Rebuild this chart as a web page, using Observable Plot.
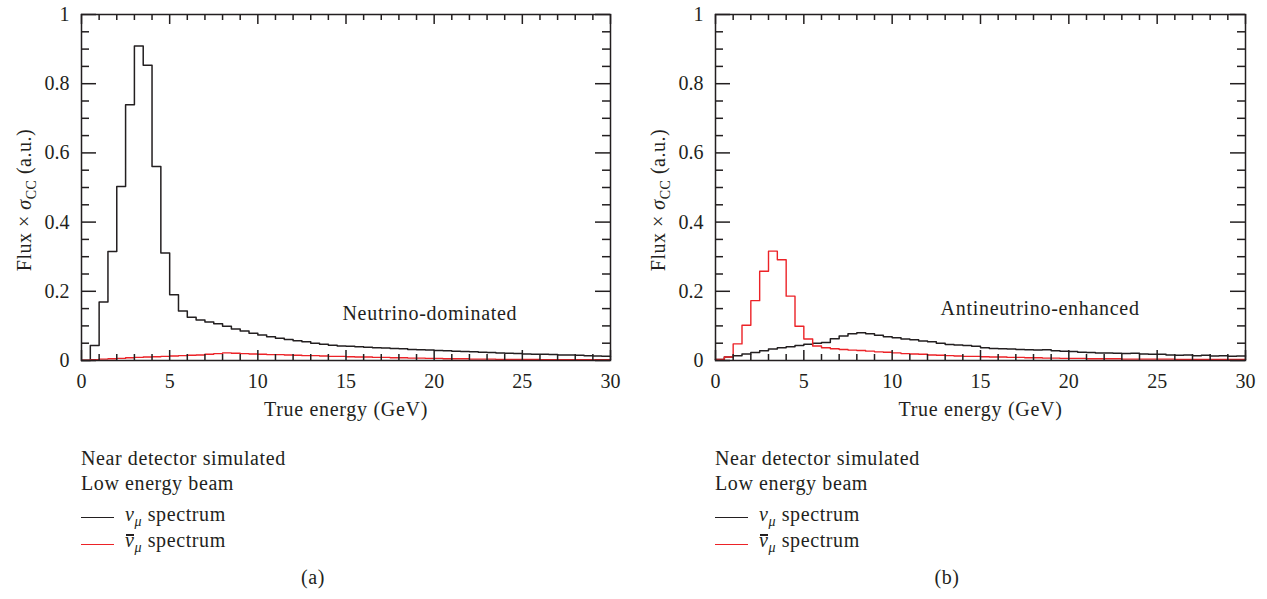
<!DOCTYPE html>
<html><head><meta charset="utf-8">
<script src="https://cdn.jsdelivr.net/npm/d3@7"></script>
<script src="https://cdn.jsdelivr.net/npm/@observablehq/plot@0.6"></script>
<style>
body{margin:0;background:#fff;}
#root{position:relative;width:1267px;height:599px;font-family:'Liberation Serif','Times New Roman','DejaVu Serif',serif;color:#231f20;overflow:hidden;}
#root svg, #root svg text{font-family:'Liberation Serif','Times New Roman','DejaVu Serif',serif !important;}
.panel{position:absolute;top:0;}
.abs{position:absolute;font-size:20px;line-height:20px;white-space:nowrap;letter-spacing:0.6px;}
.sw{position:absolute;height:0;width:33px;}
.ylab{position:absolute;width:300px;text-align:center;font-size:20px;line-height:20px;white-space:nowrap;letter-spacing:0.5px;transform:rotate(-90deg);}
sub{font-size:14px;vertical-align:-5px;line-height:0;font-style:italic;}
.ov{position:relative;}
.ov::before{content:"";position:absolute;left:1px;right:0;top:5px;border-top:2px solid #231f20;}
</style></head><body><div id="root"></div><script>
// ---- data (flux x sigma_CC per 0.5 GeV bin, 0..30 GeV) ----
const binWidth = 0.5;
const nuLeft = [0.000,0.043,0.169,0.315,0.503,0.739,0.909,0.853,0.561,0.311,
 0.190,0.143,0.125,0.117,0.111,0.106,0.099,0.091,0.085,0.079,
 0.074,0.069,0.064,0.061,0.057,0.054,0.050,0.047,0.044,0.042,
 0.041,0.040,0.038,0.037,0.036,0.035,0.034,0.032,0.031,0.030,
 0.029,0.028,0.027,0.026,0.025,0.024,0.023,0.022,0.021,0.020,
 0.019,0.018,0.018,0.017,0.016,0.016,0.015,0.014,0.013,0.012];
const nubarLeft = [0.001,0.002,0.004,0.005,0.006,0.008,0.009,0.010,0.011,0.012,
 0.013,0.014,0.015,0.016,0.018,0.020,0.022,0.021,0.020,0.019,
 0.018,0.017,0.017,0.016,0.015,0.014,0.014,0.013,0.012,0.012,
 0.011,0.010,0.010,0.009,0.009,0.008,0.008,0.007,0.007,0.006,
 0.006,0.005,0.005,0.005,0.004,0.004,0.004,0.003,0.003,0.003,
 0.003,0.003,0.002,0.002,0.002,0.002,0.002,0.002,0.002,0.002];
const nuRight = [0.003,0.010,0.014,0.019,0.023,0.028,0.033,0.037,0.040,0.043,
 0.047,0.050,0.052,0.063,0.071,0.077,0.080,0.077,0.073,0.069,
 0.066,0.062,0.060,0.056,0.054,0.050,0.046,0.045,0.043,0.041,
 0.037,0.035,0.034,0.033,0.032,0.031,0.030,0.031,0.028,0.027,
 0.026,0.024,0.023,0.022,0.022,0.021,0.020,0.021,0.019,0.018,
 0.018,0.016,0.015,0.016,0.014,0.015,0.013,0.014,0.012,0.013];
const nubarRight = [0.003,0.010,0.048,0.102,0.173,0.258,0.316,0.291,0.186,0.099,
 0.062,0.042,0.037,0.034,0.032,0.030,0.029,0.027,0.025,0.024,
 0.022,0.020,0.019,0.018,0.016,0.015,0.014,0.013,0.012,0.012,
 0.011,0.010,0.010,0.009,0.009,0.008,0.008,0.007,0.007,0.006,
 0.006,0.006,0.005,0.005,0.005,0.005,0.004,0.004,0.004,0.004,
 0.004,0.004,0.003,0.003,0.003,0.003,0.003,0.003,0.003,0.003];
const xTicks = [0,5,10,15,20,25,30];
const yTicks = [0,0.2,0.4,0.6,0.8,1];
const xLabel = "True energy (GeV)";
const annotations = [
  {text:"Neutrino-dominated", x:14.8, y:0.137},
  {text:"Antineutrino-enhanced", x:12.74, y:0.149}
];
const panelLetters = ["(a)","(b)"];
const legendLines = ["Near detector simulated","Low energy beam"];

const FONT = "'Liberation Serif','Times New Roman','DejaVu Serif',serif";
const BLACK = "#231f20", RED = "#ec2227";
const W = 633, H = 430, MT = 14, MB = 70, ML = 81;
const xMinor = d3.range(1, 30, 1).filter(d => d % 5 !== 0);
const yMinor = d3.range(1, 20).map(i => i * 0.05).filter(d => Math.abs(d / 0.2 - Math.round(d / 0.2)) > 1e-6);

function steps(vals) {
  const pts = vals.map((v, i) => ({x: i * binWidth, y: v}));
  pts.push({x: vals.length * binWidth, y: vals[vals.length - 1]});
  return pts;
}

function panel(nu, nubar, ann, mr) {
  const fh = H - MT - MB, fw = W - ML - mr;
  const svg = Plot.plot({
    width: W, height: H, marginLeft: ML, marginRight: mr, marginTop: MT, marginBottom: MB,
    x: {domain: [0, 30]}, y: {domain: [0, 1]},
    style: {fontFamily: FONT, fontSize: "20px", color: BLACK, background: "white", overflow: "visible"},
    marks: [
      Plot.line(steps(nu), {x: "x", y: "y", curve: "step-after", stroke: BLACK, strokeWidth: 1.5}),
      Plot.line(steps(nubar), {x: "x", y: "y", curve: "step-after", stroke: RED, strokeWidth: 1.4}),
      // inward ticks on all four sides
      Plot.tickX(xTicks, {x: d => d, insetTop: fh - 10, stroke: BLACK, strokeWidth: 1.5}),
      Plot.tickX(xMinor, {x: d => d, insetTop: fh - 6, stroke: BLACK, strokeWidth: 1.5}),
      Plot.tickX(xTicks, {x: d => d, insetBottom: fh - 10, stroke: BLACK, strokeWidth: 1.5}),
      Plot.tickX(xMinor, {x: d => d, insetBottom: fh - 6, stroke: BLACK, strokeWidth: 1.5}),
      Plot.tickY(yTicks, {y: d => d, insetRight: fw - 15, stroke: BLACK, strokeWidth: 1.5}),
      Plot.tickY(yMinor, {y: d => d, insetRight: fw - 8, stroke: BLACK, strokeWidth: 1.5}),
      Plot.tickY(yTicks, {y: d => d, insetLeft: fw - 15, stroke: BLACK, strokeWidth: 1.5}),
      Plot.tickY(yMinor, {y: d => d, insetLeft: fw - 8, stroke: BLACK, strokeWidth: 1.5}),
      Plot.frame({stroke: BLACK, strokeWidth: 1.5}),
      Plot.axisX({ticks: xTicks, tickSize: 0, tickPadding: 13, tickFormat: d => String(d), label: null, fill: BLACK}),
      Plot.axisY({ticks: yTicks, tickSize: 0, tickPadding: 12, tickFormat: d => String(d), label: null, fill: BLACK}),
      Plot.text([xLabel], {text: d => d, frameAnchor: "bottom", dy: 55, fill: BLACK, fontSize: 20}),
      Plot.text([ann], {x: "x", y: "y", text: "text", textAnchor: "start", fill: BLACK, fontSize: 20})
    ]
  });
  d3.select(svg).selectAll('g[aria-label="text"] text').style("letter-spacing", "0.7px");
  return svg;
}

const root = document.getElementById("root");
const offsets = [0, 634];
const data = [[nuLeft, nubarLeft, 23], [nuRight, nubarRight, 22]];
offsets.forEach((ox, i) => {
  const div = document.createElement("div");
  div.className = "panel";
  div.style.left = ox + "px";
  div.appendChild(panel(data[i][0], data[i][1], annotations[i], data[i][2]));
  root.appendChild(div);

  const yl = document.createElement("div");
  yl.className = "ylab";
  yl.style.left = (ox + 24 - 150) + "px";
  yl.style.top = (200 - 10) + "px";
  yl.innerHTML = "Flux × <i>σ</i><sub style='font-style:normal'>CC</sub> (a.u.)";
  root.appendChild(yl);

  const lx = ox + 81;
  legendLines.forEach((t, j) => {
    const d = document.createElement("div");
    d.className = "abs";
    d.style.left = lx + "px";
    d.style.top = (448 + 25 * j) + "px";
    d.textContent = t;
    root.appendChild(d);
  });
  const entries = [
    {html: "<i>ν</i><sub>μ</sub>&nbsp;spectrum", color: BLACK},
    {html: "<i class='ov'>ν</i><sub>μ</sub>&nbsp;spectrum", color: RED}
  ];
  entries.forEach((e, j) => {
    const s = document.createElement("div");
    s.className = "sw";
    s.style.left = lx + "px";
    s.style.top = (517 + 27 * j) + "px";
    s.style.borderTop = "1.5px solid " + e.color;
    root.appendChild(s);
    const d = document.createElement("div");
    d.className = "abs";
    d.style.left = (lx + 44) + "px";
    d.style.top = (504 + 26 * j) + "px";
    d.innerHTML = e.html;
    root.appendChild(d);
  });
  const p = document.createElement("div");
  p.className = "abs";
  p.style.left = (ox + 313 - 20) + "px";
  p.style.width = "40px";
  p.style.textAlign = "center";
  p.style.top = "567px";
  p.textContent = panelLetters[i];
  root.appendChild(p);
});
</script></body></html>
